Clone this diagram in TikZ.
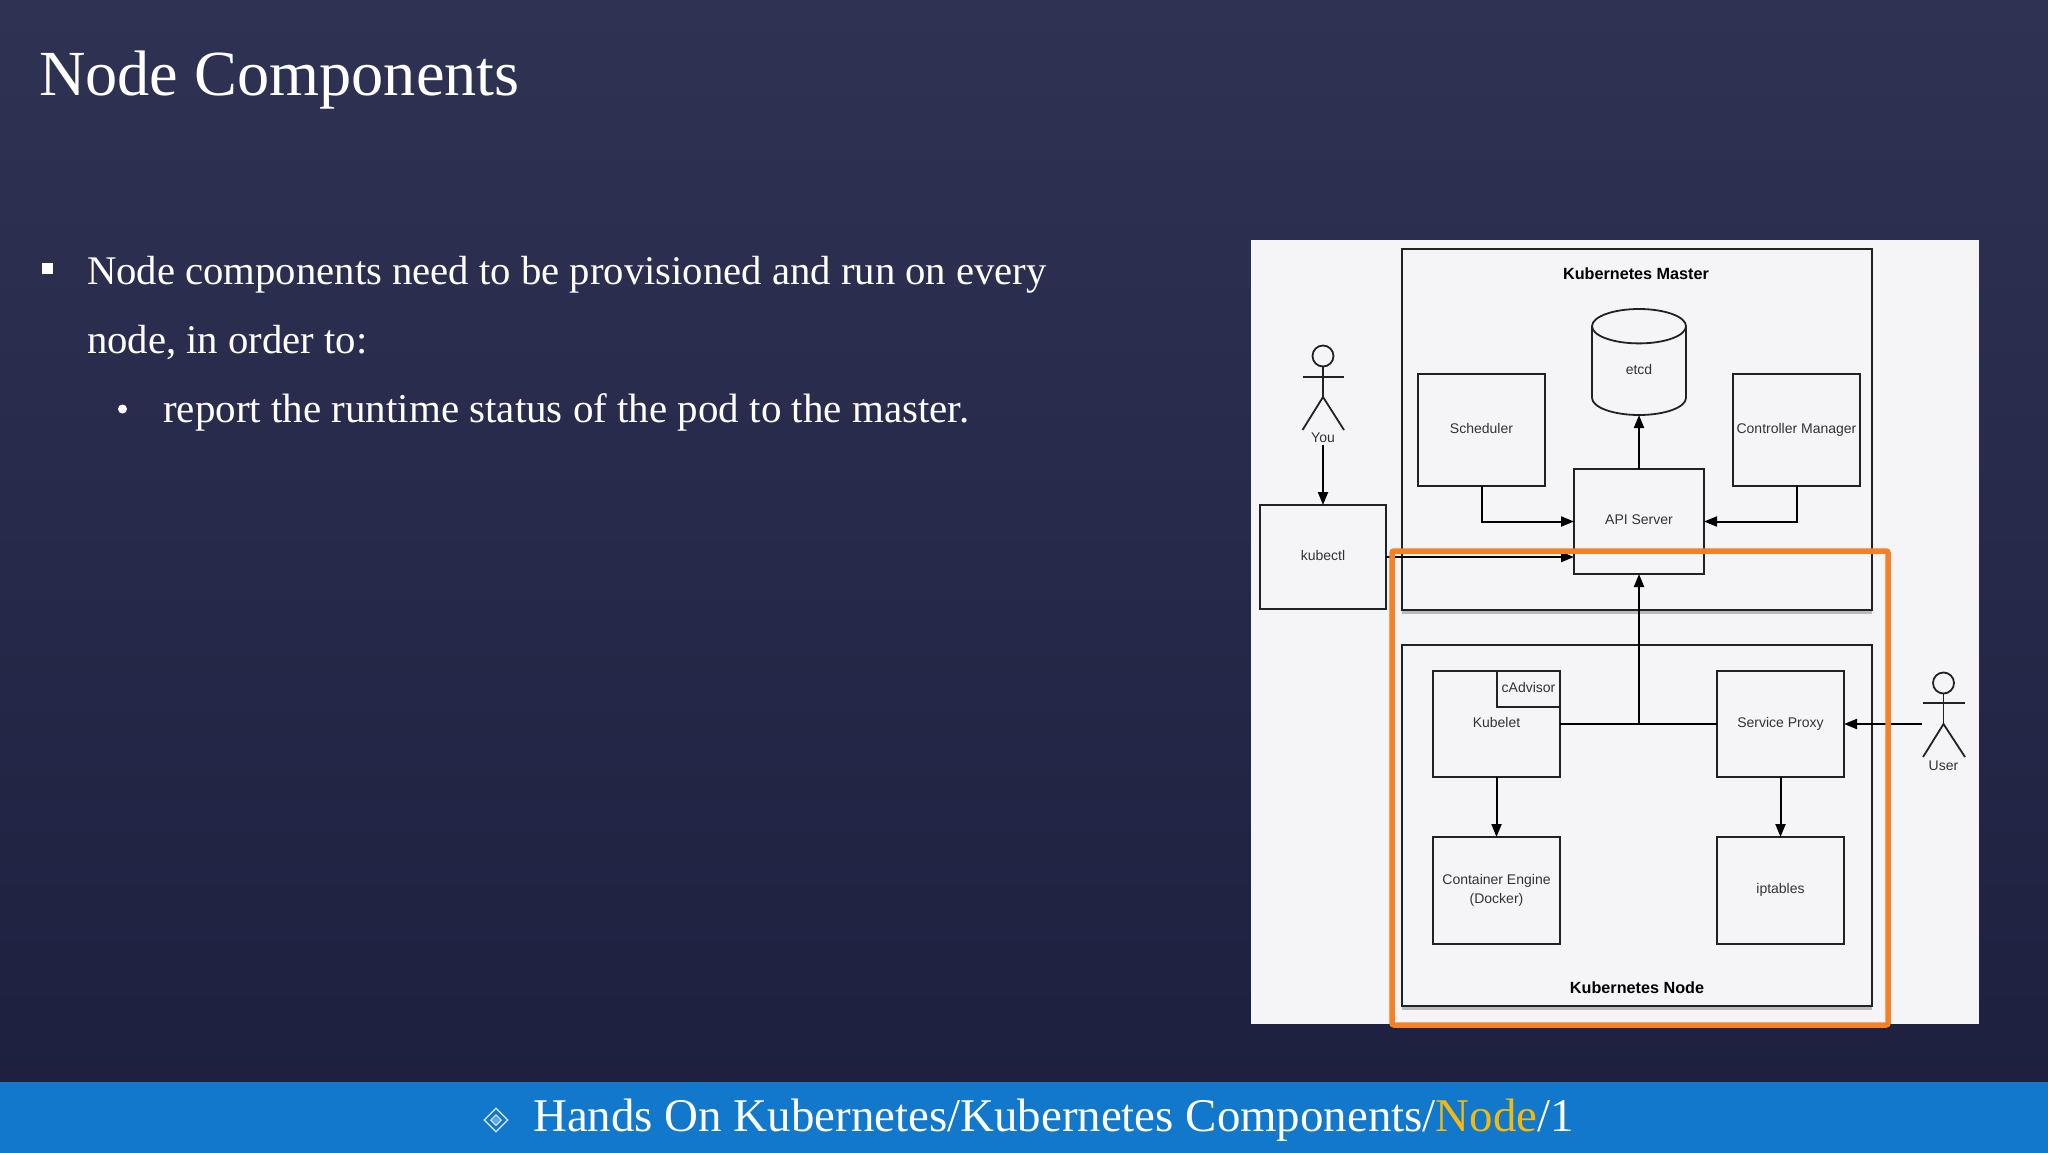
\documentclass[tikz,border=0pt]{standalone}
\usepackage{fontspec}
\usepackage{tikz}
\usepackage{color}
\usetikzlibrary{arrows.meta,shapes.geometric,shadows}
\setmainfont{Liberation Serif}
\newfontfamily\boxfont{Liberation Sans}
\definecolor{slidetop}{HTML}{2F3353}
\definecolor{slidebottom}{HTML}{1E2040}
\definecolor{barblue}{HTML}{1278CB}
\definecolor{panelgray}{HTML}{F5F5F7}
\definecolor{boxline}{HTML}{222222}
\definecolor{boxtext}{HTML}{333333}
\definecolor{markorange}{HTML}{F58025}
\definecolor{nodeyellow}{HTML}{F2B90F}
\tikzset{
  >={Triangle[length=13pt,width=10pt]},
  box/.style={draw=boxline,line width=1.8pt,fill=panelgray,inner sep=0pt,outer sep=0pt,text=boxtext,align=center,
    text depth=3.5pt,font=\boxfont\fontsize{14}{19}\selectfont},
  group/.style={box,line width=2.4pt,drop shadow={shadow xshift=0pt,shadow yshift=-4pt,opacity=0.5}},
  grouptitle/.style={inner sep=0pt,text=black,font=\boxfont\bfseries\fontsize{16.2}{19}\selectfont},
  actorlabel/.style={inner sep=2pt,text=boxtext,font=\boxfont\fontsize{14}{19}\selectfont},
  stick/.style={draw=boxline,line width=1.8pt},
  link/.style={draw=black,line width=2pt},
  slidetext/.style={anchor=base west,inner sep=0pt,text=white},
}
\begin{document}
\begin{tikzpicture}[x=1pt,y=-1pt]
\useasboundingbox (0,0) rectangle (2048,1152);

\fill[top color=slidetop,bottom color=slidebottom] (0,0) rectangle (2048,1082);
\fill[barblue] (0,1082) rectangle (2048,1155);

\node[slidetext,font=\fontsize{64.3}{70}\selectfont] (title) at (39,95) {Node Components};
\node[fill=white,inner sep=0pt,minimum size=11pt] (squarebullet) at (47,268) {};
\node[slidetext,font=\fontsize{40.7}{48}\selectfont] (lineone) at (87,284) {Node components need to be provisioned and run on every};
\node[slidetext,font=\fontsize{40.7}{48}\selectfont] (linetwo) at (87,353) {node, in order to:};
\node[circle,fill=white,inner sep=0pt,minimum size=9pt] (roundbullet) at (122.5,409) {};
\node[slidetext,font=\fontsize{41}{48}\selectfont] (linethree) at (163,422) {report the runtime status of the pod to the master.};

\node[diamond,draw=white!85!barblue,line width=1.2pt,inner sep=0pt,minimum width=24pt,minimum height=24pt] (outerdiamond) at (496,1120) {};
\node[diamond,draw=white!85!barblue,fill=white!35!barblue,line width=1pt,inner sep=0pt,minimum width=11pt,minimum height=11pt] (innerdiamond) at (496,1120) {};
\node[slidetext,font=\fontsize{46.9}{50}\selectfont] (footer) at (533,1131) {Hands On Kubernetes/Kubernetes Components/{\color{nodeyellow}Node}/1};

\fill[panelgray] (1251,240) rectangle (1979,1024);

\node[group,minimum width=470pt,minimum height=361pt] (master) at (1637,429.5) {};
\node[group,minimum width=470pt,minimum height=361pt] (worker) at (1637,825.5) {};
\node[grouptitle] (mastertitle) at (1636,274) {Kubernetes Master};
\node[grouptitle] (workertitle) at (1637,988) {Kubernetes Node};

\node[box,minimum width=126pt,minimum height=104pt] (kubectl) at (1323,557) {kubectl};
\node[box,minimum width=127pt,minimum height=112pt] (scheduler) at (1481.5,430) {Scheduler};
\node[box,minimum width=127pt,minimum height=112pt] (controller) at (1796.5,430) {Controller Manager};
\node[box,minimum width=130pt,minimum height=105pt] (api) at (1639,521.5) {API Server};
\node[box,cylinder,shape border rotate=90,aspect=1.3,minimum width=94pt,minimum height=106pt,anchor=shape center] (etcd) at (1639,362) {etcd};

\node[box,minimum width=127pt,minimum height=106pt] (kubelet) at (1496.5,724) {Kubelet};
\node[box,minimum width=63pt,minimum height=36pt] (cadvisor) at (1528.5,689) {cAdvisor};
\node[box,minimum width=127pt,minimum height=106pt] (proxy) at (1780.5,724) {Service Proxy};
\node[box,minimum width=127pt,minimum height=107pt] (container) at (1496.5,890.5) {Container Engine\\(Docker)};
\node[box,minimum width=127pt,minimum height=107pt] (iptables) at (1780.5,890.5) {iptables};

\node[circle,stick,inner sep=0pt,minimum size=21pt] (youhead) at (1323,356) {};
\draw[stick] (youhead.south) -- (1323,397);
\draw[stick] (1302.5,377) -- (1344,377);
\draw[stick] (1302.5,430) -- (1323,397) -- (1344,430);
\node[actorlabel] (you) at (1323,438) {You};

\node[circle,stick,inner sep=0pt,minimum size=21pt] (userhead) at (1943.5,683) {};
\draw[stick] (userhead.south) -- (1943.5,724);
\draw[stick] (1923,703) -- (1965,703);
\draw[stick] (1923,757) -- (1943.5,724) -- (1965,757);
\node[actorlabel] (user) at (1943.5,766) {User};
\coordinate (userside) at (1922,724);

\draw[link,->] (you.south) -- (kubectl.north);
\draw[link,->] (kubectl.east) -- (kubectl.east -| api.west);
\draw[link,->] (scheduler.south) |- (api.west);
\draw[link,->] (controller.south) |- (api.east);
\draw[link,->] (api.north) -- (etcd.south);
\draw[link] (kubelet.east) -- (proxy.west);
\coordinate (bus) at (api.south |- kubelet.east);
\draw[link,->] (bus) -- (api.south);
\draw[link,->] (kubelet.south) -- (container.north);
\draw[link,->] (proxy.south) -- (iptables.north);
\draw[link,->] (userside) -- (proxy.east);

\draw[markorange,line width=5.5pt,rounded corners=2pt] (1392,551) rectangle (1888,1025);

\end{tikzpicture}
\end{document}
